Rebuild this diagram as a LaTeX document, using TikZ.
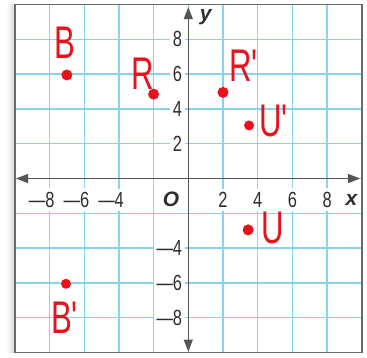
\documentclass[tikz,border=0pt]{standalone}
\usepackage{fontspec}
\setmainfont{Liberation Sans}
\usetikzlibrary{arrows.meta}
\definecolor{GPGrid}{HTML}{86D3F4}
\definecolor{GPAxis}{HTML}{555555}
\definecolor{GPFrame}{HTML}{6A6A6A}
\definecolor{GPInk}{HTML}{2E2E2E}
\definecolor{GPRed}{HTML}{E8121C}
\tikzset{
  gridline/.style={GPGrid,line width=1.4pt},
  frame/.style={GPFrame,line width=1.8pt},
  axis/.style={{Triangle[length=12bp,width=9bp]}-{Triangle[length=12bp,width=9bp]},GPAxis,line width=1.3pt},
  ticklabel/.style={fill=white,text=GPInk,inner xsep=2.5bp,inner ysep=3.5bp,
                    font=\fontsize{22}{24}\selectfont\addfontfeature{FakeStretch=0.75}},
  axislabel/.style={ticklabel,font=\fontsize{21}{23}\selectfont\bfseries\itshape},
  dot/.style={circle,fill=GPRed,inner sep=0pt,minimum size=11bp},
  hand/.style={text=GPRed,inner sep=0pt,
               font=\fontsize{46}{48}\selectfont\addfontfeature{FakeStretch=0.68}},
}
\begin{document}
\begin{tikzpicture}[x=17.35bp,y=17.4bp]
    \useasboundingbox (-10.853,-10.26) rectangle (10.3,10.26);
    % faint shadow left of the frame
    \shade[left color=white,right color=black!16] (-10.5,-10) rectangle (-10,10);

    % grid, every two units
    \foreach \v in {-8,-6,...,8}{
      \draw[gridline] (\v,-10)--(\v,10);
      \draw[gridline] (-10,\v)--(10,\v);
    }

    % tick labels on white
    \foreach \t in {8,6,4}{
      \node[ticklabel] (xlm\t) at (-\t-0.45,-1.22) {\textemdash\t};
      \node[ticklabel,anchor=east] (ylm\t) at (-0.2,-\t) {\textemdash\t};
    }
    \foreach \t in {2,4,6,8}{
      \node[ticklabel] (xl\t) at (\t,-1.22) {\t};
      \node[ticklabel,anchor=east] (yl\t) at (-0.2,\t) {\t};
    }
    \node[axislabel] (orig) at (-1.0,-1.22) {O};
    \node[axislabel] (xname) at (9.4,-1.22) {x};
    \node[axislabel] (yname) at (1.0,9.3) {y};

    % axes and frame
    \coordinate (xlo) at (-9.93,0);
    \coordinate (xhi) at (9.9,0);
    \coordinate (ylo) at (0,-9.95);
    \coordinate (yhi) at (0,9.85);
    \draw[axis] (xlo)--(xhi);
    \draw[axis] (ylo)--(yhi);
    \draw[frame] (-10,-10) rectangle (10,10);

    % marked points
    \node[dot] (ptB)  at (-7,5.95) {};
    \node[dot] (ptR)  at (-2,4.85) {};
    \node[dot] (ptRp) at (2,4.95) {};
    \node[dot,minimum size=10bp] (ptUp) at (3.5,3.05) {};
    \node[dot] (ptU)  at (3.45,-2.95) {};
    \node[dot,minimum size=10bp] (ptBp) at (-7.05,-6.05) {};

    \node[hand] (lbB)  at (-7.1,7.8)  {B};
    \node[hand] (lbR)  at (-2.6,6.0)  {R};
    \node[hand] (lbRp) at (3.25,6.5)  {R\textquotesingle};
    \node[hand] (lbUp) at (5.0,3.3)   {U\textquotesingle};
    \node[hand] (lbU)  at (4.85,-2.85) {U};
    \node[hand] (lbBp) at (-7.05,-8.0) {B\textquotesingle};
  \end{tikzpicture}
\end{document}
